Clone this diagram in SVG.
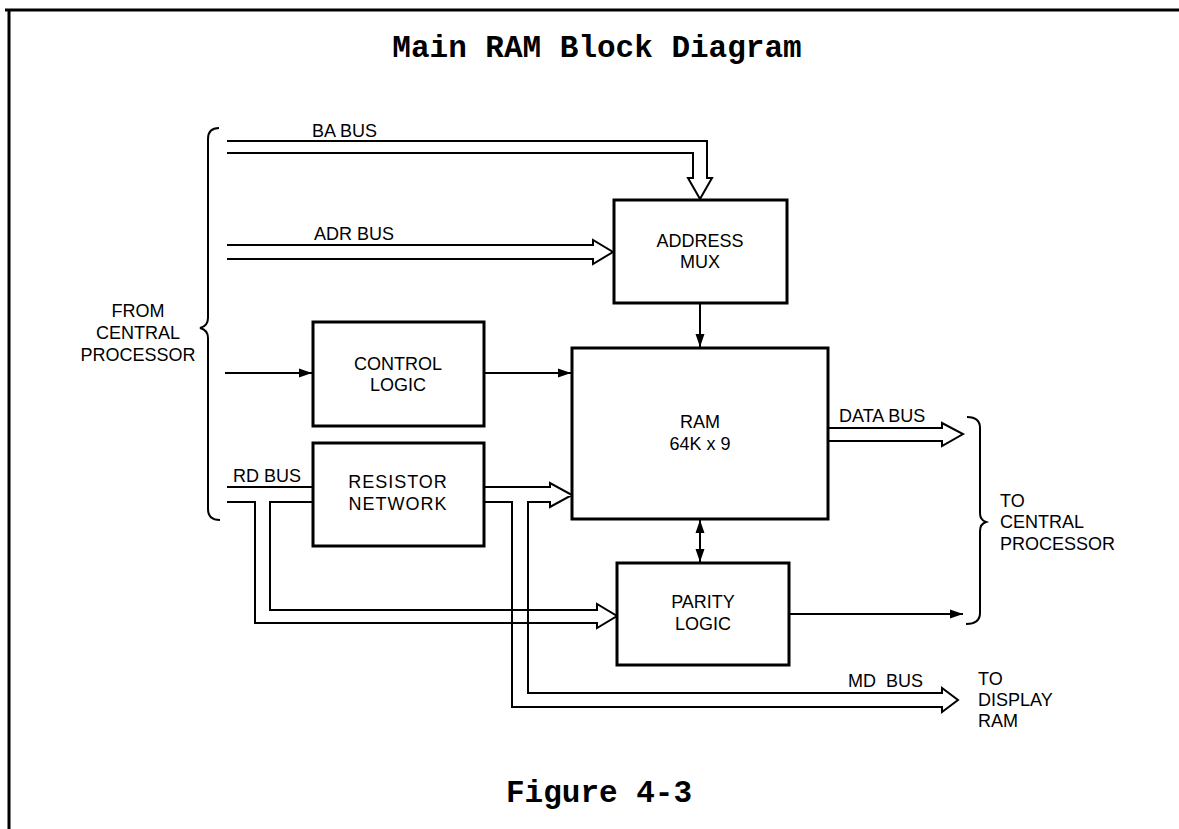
<svg xmlns="http://www.w3.org/2000/svg" width="1179" height="829" viewBox="0 0 1179 829">
<style>
  .box{fill:#fff;stroke:#000;stroke-width:3}
  .ln{fill:none;stroke:#000;stroke-width:2;stroke-linejoin:miter}
  .lbl{font-family:"Liberation Sans",Arial,sans-serif;font-size:18px;fill:#000}
  .c{text-anchor:middle}
  .ttl{font-family:"Liberation Mono","Courier New",monospace;font-size:31px;font-weight:bold;fill:#000;text-anchor:middle}
</style>
<defs>
  <marker id="ah" markerUnits="userSpaceOnUse" markerWidth="14" markerHeight="10" refX="13" refY="5" orient="auto">
    <path d="M0,0.5 L13,5 L0,9.5 z" fill="#000"/>
  </marker>
  <marker id="ahs" markerUnits="userSpaceOnUse" markerWidth="14" markerHeight="10" refX="13" refY="5" orient="auto-start-reverse">
    <path d="M0,0.5 L13,5 L0,9.5 z" fill="#000"/>
  </marker>
</defs>
<rect width="1179" height="829" fill="#fff"/>
<g id="frame">
  <path d="M5,10 L1179,10 M9,10 L9,829" fill="none" stroke="#000" stroke-width="3"/>
</g>
<text class="ttl" x="597" y="57">Main RAM Block Diagram</text>
<text class="ttl" x="599" y="802">Figure 4-3</text>

<g id="connectors">
  <!-- left brace -->
  <path class="ln" d="M219,128 Q208,128 208,139 L208,318 Q208,326 200,328 Q208,330 208,338 L208,509 Q208,520 220,520"/>
  <!-- right brace -->
  <path class="ln" d="M967,417 Q980,417 980,428 L980,513 Q980,520 986,522 Q980,524 980,531 L980,613 Q980,624 966,624"/>
  <!-- BA bus -->
  <path class="ln" d="M227,141 L707,141 L707,178 L712,178 L700,199 L688,178 L693,178 L693,153 L227,153"/>
  <!-- ADR bus -->
  <path class="ln" d="M227,245 L593,245 L593,240 L613,252 L593,264 L593,259 L227,259"/>
  <!-- control lines -->
  <line class="ln" x1="225" y1="373" x2="312" y2="373" marker-end="url(#ah)"/>
  <line class="ln" x1="484" y1="373" x2="571" y2="373" marker-end="url(#ah)"/>
  <line class="ln" x1="700" y1="303" x2="700" y2="347" marker-end="url(#ah)"/>
  <line class="ln" x1="700" y1="520" x2="700" y2="562" marker-start="url(#ahs)" marker-end="url(#ah)"/>
  <line class="ln" x1="790" y1="614" x2="963" y2="614" marker-end="url(#ah)"/>
  <!-- DATA bus -->
  <path class="ln" d="M828,428 L942,428 L942,423 L963,434 L942,446 L942,441 L828,441"/>
  <!-- RD bus -->
  <line class="ln" x1="227" y1="487" x2="313" y2="487"/>
  <path class="ln" d="M227,502 L255,502 L255,623 L597,623 L597,628 L617,616 L597,604 L597,610 L270,610 L270,502 L313,502"/>
  <path class="ln" d="M484,487 L550,487 L550,483 L572,495 L550,507 L550,502 L528,502 L528,693 L942,693 L942,688 L958,700 L942,712 L942,707 L512,707 L512,502 L484,502"/>
</g>

<g id="address-mux">
  <rect class="box" x="614" y="200" width="173" height="103"/>
  <text class="lbl c" x="700" y="247">ADDRESS</text>
  <text class="lbl c" x="700" y="268">MUX</text>
</g>
<g id="control-logic">
  <rect class="box" x="313" y="322" width="171" height="104"/>
  <text class="lbl c" x="398" y="370">CONTROL</text>
  <text class="lbl c" x="398" y="391">LOGIC</text>
</g>
<g id="resistor-network">
  <rect class="box" x="313" y="443" width="171" height="103"/>
  <text class="lbl c" x="398" y="488" letter-spacing="1">RESISTOR</text>
  <text class="lbl c" x="398" y="510" letter-spacing="1">NETWORK</text>
</g>
<g id="ram">
  <rect class="box" x="572" y="348" width="256" height="171"/>
  <text class="lbl c" x="700" y="428">RAM</text>
  <text class="lbl c" x="700" y="450">64K x 9</text>
</g>
<g id="parity-logic">
  <rect class="box" x="617" y="563" width="172" height="102"/>
  <text class="lbl c" x="703" y="608">PARITY</text>
  <text class="lbl c" x="703" y="630">LOGIC</text>
</g>

<g id="labels">
  <text class="lbl" x="312" y="137">BA BUS</text>
  <text class="lbl" x="314" y="240">ADR BUS</text>
  <text class="lbl" x="233" y="482">RD BUS</text>
  <text class="lbl" x="839" y="422">DATA BUS</text>
  <text class="lbl" x="848" y="687" xml:space="preserve">MD  BUS</text>
  <text class="lbl c" x="138" y="317">FROM</text>
  <text class="lbl c" x="138" y="339">CENTRAL</text>
  <text class="lbl c" x="138" y="361">PROCESSOR</text>
  <text class="lbl" x="1000" y="507">TO</text>
  <text class="lbl" x="1000" y="528">CENTRAL</text>
  <text class="lbl" x="1000" y="550">PROCESSOR</text>
  <text class="lbl" x="978" y="685">TO</text>
  <text class="lbl" x="978" y="706">DISPLAY</text>
  <text class="lbl" x="978" y="727">RAM</text>
</g>
</svg>
